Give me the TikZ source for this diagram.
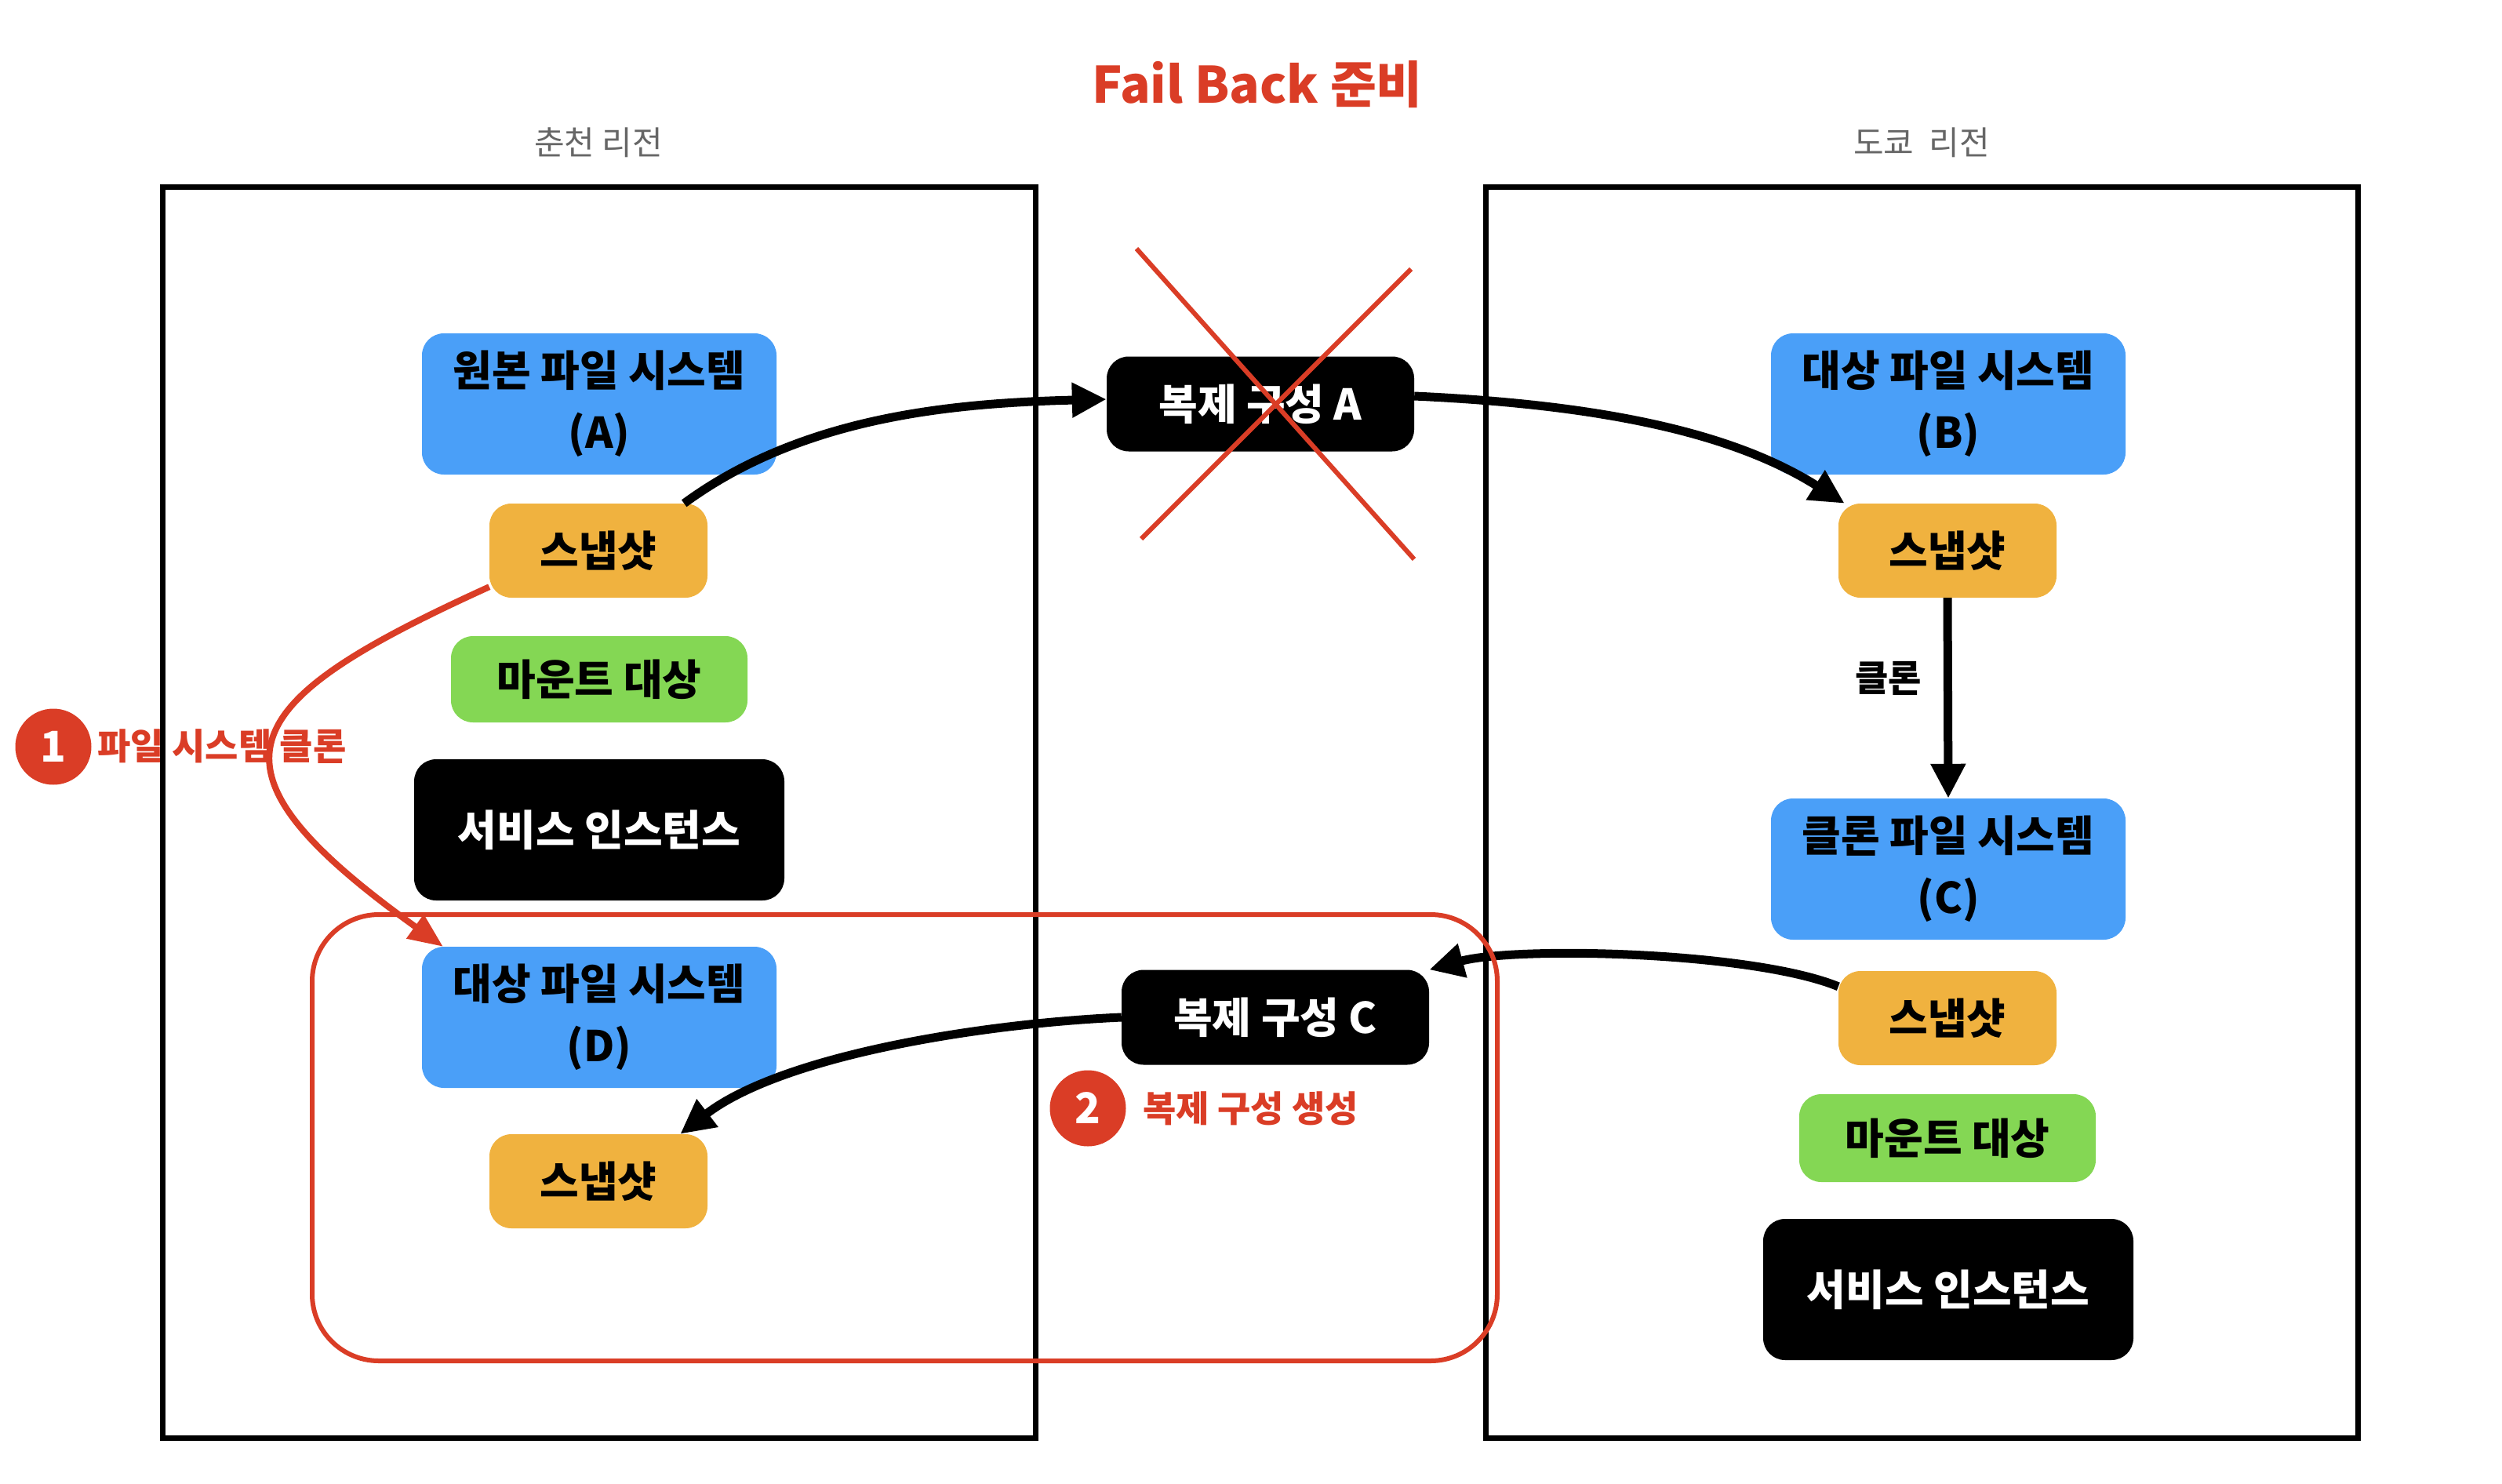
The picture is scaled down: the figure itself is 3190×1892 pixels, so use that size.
\documentclass[tikz,border=0pt]{standalone}
\usepackage{fontspec}
\setmainfont{Noto Sans CJK KR}
\usetikzlibrary{arrows.meta}
\definecolor{fsblue}{RGB}{74,159,248}
\definecolor{snaporange}{RGB}{240,178,63}
\definecolor{mountgreen}{RGB}{132,215,84}
\definecolor{markred}{RGB}{218,61,38}
\definecolor{regiongray}{RGB}{102,102,102}

\begin{document}
\begin{tikzpicture}[x=1pt,y=-1pt,
  box/.style={rounded corners=28pt,inner sep=0pt,align=center,font=\fontsize{54}{79}\selectfont\bfseries},
  fs/.style={box,fill=fsblue,minimum width=452pt,minimum height=180pt},
  snap/.style={box,fill=snaporange,minimum width=278pt,minimum height=120pt},
  mount/.style={box,fill=mountgreen,minimum width=378pt,minimum height=110pt},
  svc/.style={box,fill=black,text=white,minimum width=472pt,minimum height=180pt},
  rep/.style={box,fill=black,text=white,minimum width=392pt,minimum height=121pt},
  region/.style={draw=black,line width=7pt},
  regionlbl/.style={text=regiongray,font=\fontsize{42}{44}\selectfont},
  flow/.style={draw=black,line width=11pt,-{Triangle[length=44pt,width=42pt]}},
  redflow/.style={draw=markred,line width=8pt,-{Triangle[length=44pt,width=36pt]}},
  stepnum/.style={circle,fill=markred,text=white,minimum size=97pt,inner sep=0pt,font=\fontsize{54}{56}\selectfont\bfseries},
  steplbl/.style={anchor=west,text=markred,inner sep=0pt,font=\fontsize{46}{48}\selectfont\bfseries}]

\useasboundingbox (0,0) rectangle (3190,1892);

\node[text=markred,font=\fontsize{64}{66}\selectfont\bfseries] (title) at (1603,108) {Fail Back 준비};
\node[regionlbl] (chuncheon) at (763,182) {춘천 리전};
\node[regionlbl] (tokyo) at (2450,182) {도쿄\ \ 리전};

\node[stepnum] (one) at (68,952) {1};
\node[steplbl] (onelbl) at (124,952) {파일 시스템 클론};
\node[stepnum] (two) at (1387,1413) {2};
\node[steplbl] (twolbl) at (1457,1413) {복제 구성 생성};

\draw[region] (207,238) rectangle (1320,1833);
\draw[region] (1894,238) rectangle (3006,1833);

\node[fs] (fsA) at (764,515) {원본 파일 시스템\\(A)};
\node[snap] (snapA) at (763,702) {스냅샷};
\node[mount] (mountA) at (764,866) {마운트 대상};
\node[svc] (svcA) at (764,1058) {서비스 인스턴스};
\node[fs] (fsD) at (764,1297) {대상 파일 시스템\\(D)};
\node[snap] (snapD) at (763,1506) {스냅샷};

\node[rep] (repA) at (1607,515) {복제 구성 A};
\node[rep] (repC) at (1626,1297) {복제 구성 C};

\node[fs] (fsB) at (2484,515) {대상 파일 시스템\\(B)};
\node[snap] (snapB) at (2483,702) {스냅샷};
\node[fs] (cloneC) at (2484,1108) {클론 파일 시스템\\(C)};
\node[snap] (snapC) at (2483,1298) {스냅샷};
\node[mount,minimum height=112pt] (mountC) at (2483,1451) {마운트 대상};
\node[svc] (svcC) at (2484,1644) {서비스 인스턴스};

\draw[flow] ([xshift=-30pt]snapA.north east) .. controls +(150,-110) and +(-200,5) .. ([yshift=6pt]repA.west);
\draw[flow] ([yshift=10pt]repA.east) .. controls +(220,10) and +(-150,-95) .. ([xshift=8pt]snapB.north west);
\draw[flow] (snapB.south) -- node[pos=0.4,left=28pt,inner sep=0pt,font=\fontsize{46}{48}\selectfont\bfseries] (clonelbl) {클론} (cloneC.north);
\draw[flow] ([yshift=-20pt]snapC.north west) .. controls +(-110,-45) and +(110,-30) .. (repC.north east);
\draw[flow] (repC.west) .. controls +(-180,8) and +(130,-100) .. ([xshift=-35pt]snapD.north east);

\draw[redflow] ([yshift=14pt]snapA.south west) .. controls +(-330,150) and +(-320,-230) .. ([xshift=27pt]fsD.north west);

\draw[markred,line width=6pt,rounded corners=85pt] (398,1166) rectangle (1909,1735);

\draw[markred,line width=6pt] (1449,317) -- (1803,713);
\draw[markred,line width=6pt] (1799,343) -- (1455,687);

\end{tikzpicture}
\end{document}
